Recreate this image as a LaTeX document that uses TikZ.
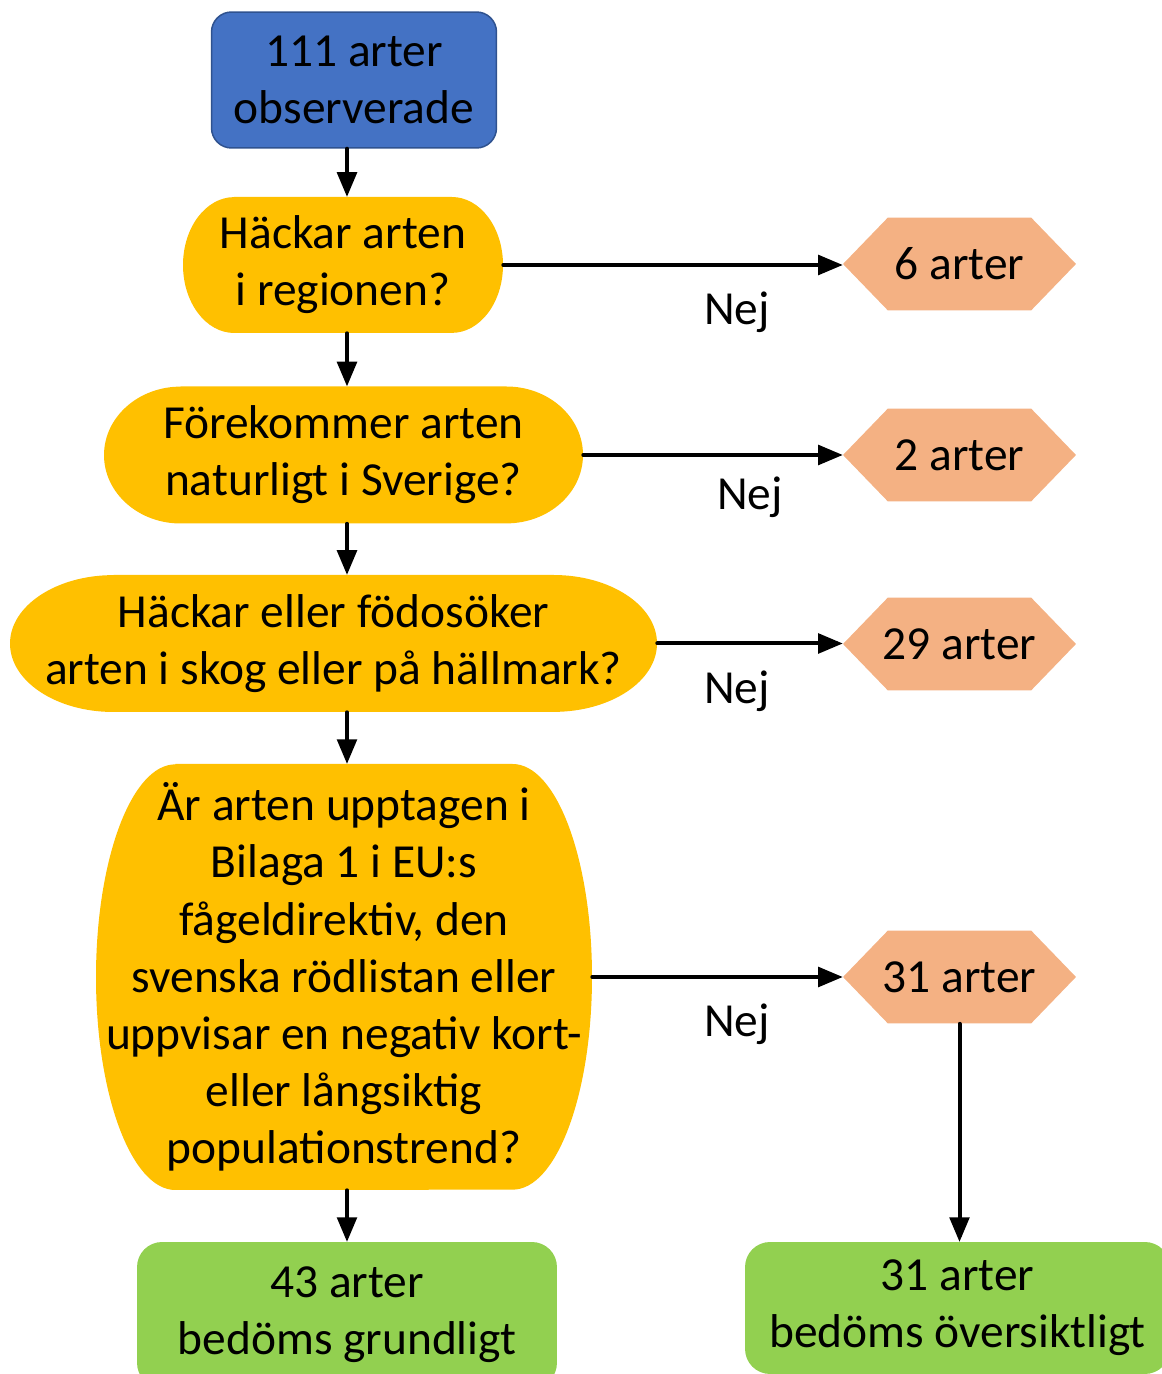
\documentclass[tikz,border=0pt]{standalone}
\usepackage{fontspec}
\setmainfont{Carlito}
\usepackage{tikz}
\usetikzlibrary{arrows,shapes.symbols}

\definecolor{boxblue}{HTML}{4472C4}
\definecolor{boxblueline}{HTML}{2F528F}
\definecolor{qyellow}{HTML}{FFC000}
\definecolor{hexorange}{HTML}{F4B183}
\definecolor{endgreen}{HTML}{92D050}

% terminator outline: centre x, centre y, width, height (px)
\newcommand{\termshape}[4]{%
  \pgfmathsetmacro{\termrx}{0.16*#3}%
  \pgfmathsetmacro{\termhw}{#3/2-\termrx}%
  \fill[qyellow] ({#1-\termhw},{#2+#4/2}) -- ({#1+\termhw},{#2+#4/2})
    arc[start angle=90,end angle=-90,x radius=\termrx*0.02cm,y radius=#4*0.01cm]
    -- ({#1-\termhw},{#2-#4/2})
    arc[start angle=270,end angle=90,x radius=\termrx*0.02cm,y radius=#4*0.01cm] -- cycle;}

\tikzset{
  qtext/.style={align=center,inner sep=0pt},
  hexbox/.style={shape=signal,signal to=west and east,signal pointer angle=92,
    fill=hexorange,minimum width=4.66cm,minimum height=1.86cm,
    inner xsep=-0.14cm,inner ysep=0pt},
  endbox/.style={fill=endgreen,rounded corners=0.5cm,align=center,inner sep=0pt},
  flow/.style={->,line width=0.08cm}
}

\begin{document}
\begin{tikzpicture}[line cap=round,line join=round,>=triangle 45,x=0.02cm,y=0.02cm,
    font=\fontsize{27}{32.5}\selectfont]
        \clip(0,0) rectangle (1162,1374);
        % start
        \node[draw=boxblueline,line width=0.03cm,fill=boxblue,rounded corners=0.4cm,
            align=center,inner sep=0pt,minimum width=5.7cm,minimum height=2.72cm]
            (start) at (354,1294) {111 arter\\observerade};
        % questions
        \termshape{343}{1109}{320}{136}
        \node[qtext,minimum width=6.4cm,minimum height=2.72cm] (q1) at (343,1109)
            {Häckar arten\\i regionen?};
        \termshape{343.5}{919}{479}{137}
        \node[qtext,minimum width=9.58cm,minimum height=2.74cm] (q2) at (343.5,919)
            {Förekommer arten\\naturligt i Sverige?};
        \termshape{333.5}{730.5}{647}{137}
        \node[qtext,minimum width=12.94cm,minimum height=2.74cm] (q3) at (333.5,730.5)
            {Häckar eller födosöker\\arten i skog eller på hällmark?};
        \termshape{344}{397}{496}{426}
        \node[qtext,minimum width=9.92cm,minimum height=8.52cm] (q4) at (344,397)
            {Är arten upptagen i\\Bilaga 1 i EU:s\\fågeldirektiv, den\\svenska rödlistan eller\\uppvisar en negativ kort-\\eller långsiktig\\populationstrend?};
        % excluded
        \node[hexbox] (h1) at (959.5,1110) {6 arter};
        \node[hexbox] (h2) at (959.5,919) {2 arter};
        \node[hexbox] (h3) at (959.5,730) {29 arter};
        \node[hexbox] (h4) at (959.5,397) {31 arter};
        % results
        \node[endbox,minimum width=8.4cm,minimum height=2.92cm] (low) at (347,59)
            {43 arter\\bedöms grundligt};
        \node[endbox,minimum width=8.5cm,minimum height=2.64cm] (high) at (957.5,66)
            {31 arter\\bedöms översiktligt};
        % main flow
        \draw[flow] (low.north |- start.south) -- (low.north |- q1.north);
        \draw[flow] (low.north |- q1.south) -- (low.north |- q2.north);
        \draw[flow] (low.north |- q2.south) -- (low.north |- q3.north);
        \draw[flow] (low.north |- q3.south) -- (low.north |- q4.north);
        \draw[flow] (low.north |- q4.south) -- (low.north);
        \draw[flow] (h4.south) -- (h4.south |- high.north);
        % no branches
        \draw[flow] (q1.east) -- (q1.east -| h1.west);
        \draw[flow] (q2.east) -- (q2.east -| h2.west);
        \draw[flow] (q3.east) -- (q3.east -| h3.west);
        \draw[flow] (q4.east) -- (q4.east -| h4.west);
        \node (nej1) at (737,1062) {Nej};
        \node (nej2) at (750,877) {Nej};
        \node (nej3) at (737,683) {Nej};
        \node (nej4) at (737,350) {Nej};
    \end{tikzpicture}
\end{document}
